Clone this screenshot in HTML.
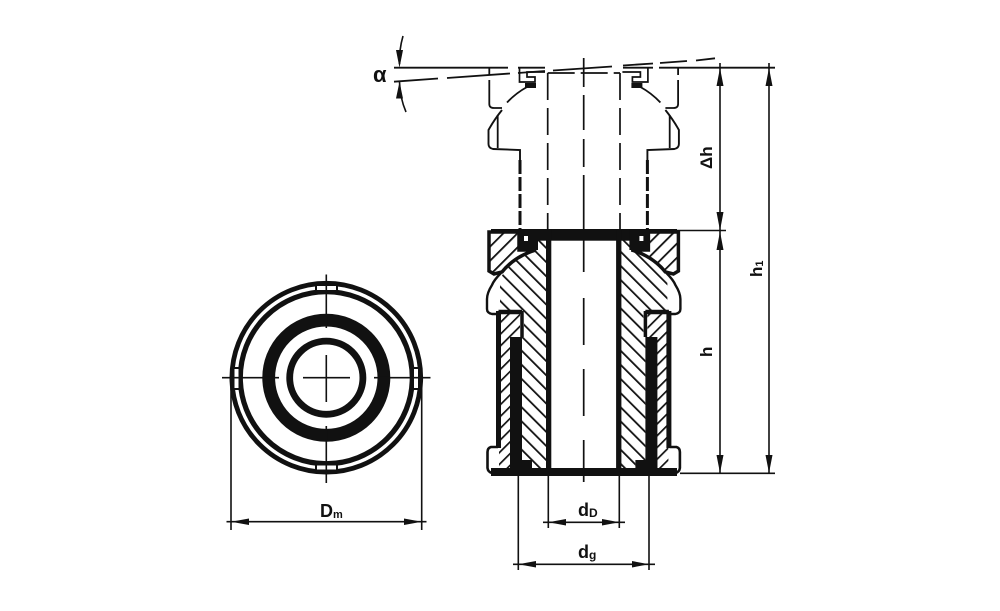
<!DOCTYPE html>
<html>
<head>
<meta charset="utf-8">
<style>
html,body{margin:0;padding:0;background:#fff;}
svg{display:block;}
text{font-family:"Liberation Sans","DejaVu Sans",sans-serif;font-weight:bold;fill:#111;}
</style>
</head>
<body>
<svg width="1000" height="611" viewBox="0 0 1000 611" xmlns="http://www.w3.org/2000/svg">
<defs>
<pattern id="sl" patternUnits="userSpaceOnUse" width="10" height="10" patternTransform="rotate(45)"><rect x="0" y="0" width="1.8" height="10" fill="#111"/></pattern>
<pattern id="bs" patternUnits="userSpaceOnUse" width="10" height="10" patternTransform="rotate(-45)"><rect x="0" y="0" width="1.8" height="10" fill="#111"/></pattern>
<pattern id="sl2" patternUnits="userSpaceOnUse" width="8.3" height="8.3" patternTransform="rotate(45)"><rect x="0" y="0" width="1.7" height="8.3" fill="#111"/></pattern>
<g id="upper" fill="none" stroke="#111" stroke-width="1.8">
  <path d="M489.3 68V75M489.3 80V104Q489.3 108 494 108L502 108"/>
  <path d="M502 110Q494 120 488.5 130V144Q488.5 148 493 149L520 150V160" stroke-width="1.9"/>
  <path d="M497.7 115V148"/>
  <path d="M507 102.500Q516 93 527 87"/>
  <path d="M519.500 68V82H535V77H527V72H545" stroke-width="1.700"/>
  <rect x="525" y="83" width="11" height="5" fill="#111" stroke="none"/>
  <path d="M520 160V229" stroke-width="3" stroke-dasharray="14 3"/>
</g>
<g id="dl">
  <path d="M501 273Q494 280 492 285Q487 293 487 299V309Q487 313 492 314H500" fill="none" stroke="#111" stroke-width="2.400"/>
  <path d="M498.500 312H522" stroke="#111" stroke-width="4.500" fill="none"/>
  <path d="M522 311V337" stroke="#111" stroke-width="3.500" fill="none"/>
  <path d="M498.500 311V448" stroke="#111" stroke-width="5" fill="none"/>
  <rect x="510" y="337" width="12" height="131" fill="#111"/>
  <rect x="510" y="460" width="22" height="9" fill="#111"/>
  <path d="M498 447H491Q487.500 448 487.500 452V468Q488 472 492 473" fill="none" stroke="#111" stroke-width="2.600"/>
  <rect x="546" y="229" width="5.300" height="247" fill="#111"/>
  <rect x="518" y="229" width="20" height="21" fill="#111"/>
  <path d="M524 236H528V241H524Z" fill="#fff"/>
</g>
</defs>

<!-- left view -->
<g fill="none" stroke="#111">
  <circle cx="326.300" cy="377.700" r="94.400" stroke-width="4.800"/>
  <circle cx="326.300" cy="377.700" r="86" stroke-width="5.200"/>
  <circle cx="326.300" cy="377.700" r="57.600" stroke-width="12.800"/>
  <circle cx="326.300" cy="377.700" r="36.600" stroke-width="6.800"/>
</g>
<g fill="#fff" stroke="#111" stroke-width="2">
  <rect x="316" y="285" width="21" height="6"/>
  <rect x="316" y="464.500" width="21" height="6"/>
  <rect x="233.500" y="368" width="6" height="21"/>
  <rect x="413" y="368" width="6" height="21"/>
</g>
<g stroke="#111" stroke-width="1.600">
  <path d="M222 377.700H279M303 377.700H350M374 377.700H430.500"/>
  <path d="M326.300 274.500V328M326.300 355V402M326.300 426V483"/>
  <path d="M231 382V530M421.700 382V530"/>
  <path d="M226.500 521.700H426.500"/>
</g>
<path d="M231 521.700L249 518.500V525Z M421.700 521.700L404 518.500V525Z" fill="#111"/>
<text x="320" y="517" font-size="18">D<tspan font-size="11" dy="1">m</tspan></text>

<!-- section view -->
<path d="M489 232H519V250H536Q515 256 502 272L494 274L489 271Z" fill="url(#sl)" stroke="#111" stroke-width="3.500"/>
<path d="M538 240H548V470H532V460H522V337H524V316L518 311H500V279Q507 266 520 258L537 250Z" fill="url(#bs)"/>
<path d="M499 314H520V337H511V468H499Z" fill="url(#sl2)"/>
<path d="M678.400 232H648.400V250H631.400Q652.400 256 665.400 272L673.400 274L678.400 271Z" fill="url(#sl)" stroke="#111" stroke-width="3.500"/>
<path d="M629.400 240H619.400V470H635.400V460H645.400V337H643.400V316L649.400 311H667.400V279Q660.400 266 647.400 258L630.400 250Z" fill="url(#bs)"/>
<path d="M668.400 314H647.400V337H656.400V468H668.400Z" fill="url(#sl2)"/>
<rect x="518" y="229" width="131.400" height="11.700" fill="#111"/>
<rect x="491" y="229" width="186" height="3.500" fill="#111"/>
<use href="#dl"/>
<use href="#dl" transform="translate(1167.400 0) scale(-1 1)"/>
<rect x="491" y="468" width="186" height="8" fill="#111"/>

<!-- upper ghost view -->
<use href="#upper"/>
<use href="#upper" transform="translate(1167.400 0) scale(-1 1)"/>
<g fill="none" stroke="#111" stroke-width="1.700">
  <path d="M547.700 73V229M620 73V229" stroke-dasharray="27 8"/>
  <path d="M547.700 73H620" stroke-dasharray="27 6"/>
</g>
<g stroke="#111" stroke-width="1.800" fill="none">
  <path d="M394 67.700H508M518 67.700H545M623 67.700H653M659 67.700H775"/>
  <path d="M394 81.700L438 78.500M447 78L510 73.500M518 73L545 71M553 70.500L612 66.500M623 65.500L653 63.500M660 63L687 61M696 60.500L715 58.300"/>
</g>
<g stroke="#111" stroke-width="1.700">
  <path d="M583.700 58V87M583.700 95V130M583.700 139V167M583.700 175V229"/>
  <path d="M583.700 240V272M583.700 298V345M583.700 369V416M583.700 440V482"/>
</g>

<!-- alpha -->
<g fill="none" stroke="#111" stroke-width="1.600">
  <path d="M403 36Q399 50 399.500 64"/>
  <path d="M399.500 82Q400 98 406 112"/>
</g>
<path d="M399.500 67.700L396 50H403Z M399.500 81.700L396 98.500H403Z" fill="#111"/>
<text x="373" y="82" font-size="22">α</text>

<!-- right dims -->
<g stroke="#111" stroke-width="1.600" fill="none">
  <path d="M720 63V473"/>
  <path d="M769 63V473"/>
  <path d="M677 230.500H726"/>
  <path d="M680 473.300H775"/>
</g>
<path d="M720 68L716.500 86H723.500Z M720 230.500L716.500 212H723.500Z M720 231.500L716.500 250H723.500Z M720 473L716.500 455H723.500Z M769 68L765.500 86H772.500Z M769 473L765.500 455H772.500Z" fill="#111"/>
<text transform="translate(712 169) rotate(-90)" font-size="17">Δh</text>
<text transform="translate(712 357) rotate(-90)" font-size="17">h</text>
<text transform="translate(762 277) rotate(-90)" font-size="17">h<tspan font-size="11" dy="1">1</tspan></text>

<!-- bottom dims -->
<g stroke="#111" stroke-width="1.600" fill="none">
  <path d="M548.300 476V528M619.300 476V528"/>
  <path d="M518.300 476V570M649 476V570"/>
  <path d="M543 522.300H625"/>
  <path d="M513 564.300H655"/>
</g>
<path d="M548.300 522.300L566 519V525.500Z M619.300 522.300L602 519V525.500Z M518.300 564.300L536 561V567.500Z M649 564.300L632 561V567.500Z" fill="#111"/>
<text x="578" y="516" font-size="18">d<tspan font-size="12" dy="1">D</tspan></text>
<text x="578" y="558" font-size="18">d<tspan font-size="12" dy="1">g</tspan></text>
</svg>
</body>
</html>
